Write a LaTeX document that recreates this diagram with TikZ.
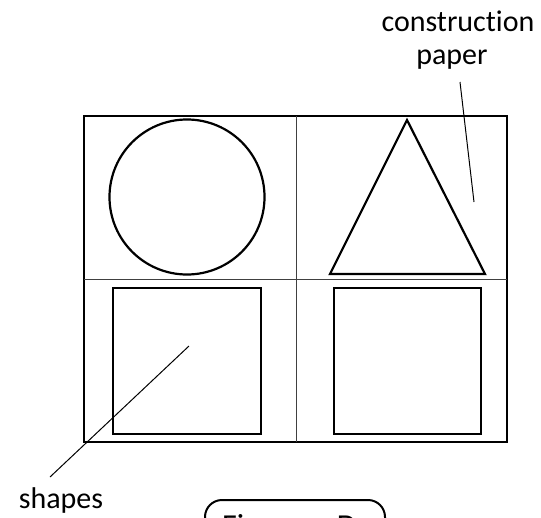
\documentclass[tikz,border=0pt]{standalone}
\usepackage{fontspec}
\setmainfont[Ligatures=NoCommon]{Carlito}
\begin{document}
\begin{tikzpicture}[x=1pt,y=-1pt,
  frame/.style={draw=black,line width=2pt},
  divider/.style={draw=black!75,line width=1pt},
  shapeline/.style={draw=black,line width=2.2pt},
  leader/.style={draw=black,line width=1pt},
  lbl/.style={inner sep=0pt,anchor=base,font=\fontsize{30}{32}\selectfont}]
\useasboundingbox (0,0) rectangle (541,517);
\clip (0,0) rectangle (541,517);
% paper
\draw[frame] (84,116) rectangle (507,442);
\draw[divider] (296,116) -- (296,442);
\draw[divider] (84,279) -- (507,279);
% shapes
\draw[shapeline] (187,197) circle[radius=77.5pt];
\draw[shapeline,line join=miter] (407,120) -- (485,274) -- (330,274) -- cycle;
\draw[shapeline] (113,288) rectangle (261,434);
\draw[shapeline] (334,288) rectangle (481,434);
% labels
\node[lbl] (constr) at (458,31) {construction};
\node[lbl] (paper) at (452,64) {paper};
\node[lbl] (shp) at (61,508) {shapes};
\coordinate (paperEnd) at (474,202);
\coordinate (paperTop) at (460,82);
\coordinate (shpEnd) at (189,346);
\coordinate (shpTop) at (50,477);
\draw[leader] (paperTop) -- (paperEnd);
\draw[leader] (shpEnd) -- (shpTop);
% figure tag
\draw[line width=2pt,rounded corners=17pt] (205,545) -- (205,500) -- (385,500) -- (385,545);
\node[lbl,anchor=base west,font=\fontsize{32}{34}\selectfont] (fig) at (222,536) {Figure\hspace{34pt}D};
\end{tikzpicture}
\end{document}
